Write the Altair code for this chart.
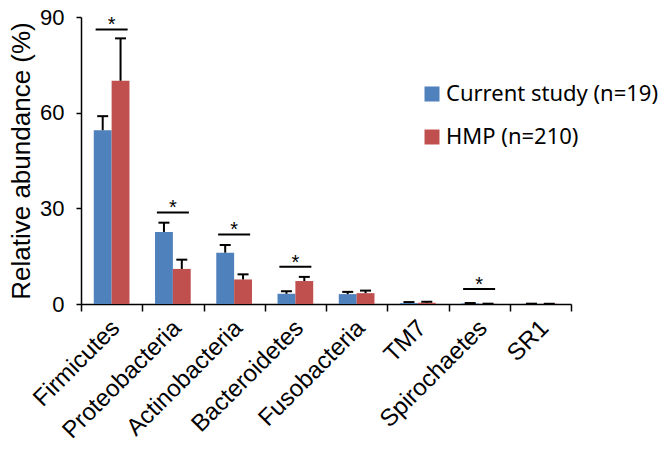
import altair as alt
import pandas as pd

categories = ["Firmicutes", "Proteobacteria", "Actinobacteria", "Bacteroidetes",
              "Fusobacteria", "TM7", "Spirochaetes", "SR1"]
groups = ["Current study (n=19)", "HMP (n=210)"]
current_mean = [54.5, 22.6, 16.1, 3.2, 3.1, 0.3, 0.2, 0.05]
current_err = [4.4, 2.9, 2.4, 0.8, 0.7, 0.3, 0.1, 0.05]
hmp_mean = [70.0, 11.0, 7.7, 7.2, 3.4, 0.4, 0.05, 0.05]
hmp_err = [13.3, 2.9, 1.6, 1.3, 0.8, 0.3, 0.05, 0.02]
sig_categories = ["Firmicutes", "Proteobacteria", "Actinobacteria", "Bacteroidetes", "Spirochaetes"]
sig_level = [86.1, 28.7, 21.8, 11.7, 4.7]
y_ticks = [0, 30, 60, 90]
colors = ["#4F81BD", "#C0504D"]

rows = []
for i, c in enumerate(categories):
    rows.append({"cat": c, "group": groups[0], "value": current_mean[i],
                 "top": current_mean[i] + current_err[i]})
    rows.append({"cat": c, "group": groups[1], "value": hmp_mean[i],
                 "top": hmp_mean[i] + hmp_err[i]})
df = pd.DataFrame(rows)
sig = pd.DataFrame({"cat": sig_categories, "level": sig_level, "star": ["*"] * len(sig_categories)})

FONT = "Liberation Sans"

x_enc = alt.X("cat:N", sort=categories, title=None,
              scale=alt.Scale(paddingInner=0, paddingOuter=0),
              axis=alt.Axis(labelAngle=-45, labelAlign="right", labelBaseline="middle",
                            labelFontSize=24, labelFont=FONT, labelPadding=13,
                            labelOffset=4, labelLimit=300,
                            tickBand="extent", tickSize=7, labelColor="black"))
xoff = alt.XOffset("group:N", sort=groups,
                   scale=alt.Scale(paddingInner=0, paddingOuter=0.716))
y_scale = alt.Scale(domain=[0, 90], nice=False)

bars = alt.Chart(df).mark_bar().encode(
    x=x_enc,
    xOffset=xoff,
    y=alt.Y("value:Q", scale=y_scale, title="Relative abundance (%)",
            axis=alt.Axis(values=y_ticks, tickSize=5, labelFontSize=22, labelFont=FONT,
                          labelPadding=12, titleFontSize=26, titleFont=FONT,
                          titleFontWeight="normal", titlePadding=5, labelColor="black",
                          titleColor="black")),
    color=alt.Color("group:N", sort=groups, title=None,
                    scale=alt.Scale(domain=groups, range=colors),
                    legend=alt.Legend(orient="none", legendX=340, legendY=66,
                                      symbolType="square", symbolSize=225,
                                      symbolStrokeWidth=0, labelFontSize=22,
                                      labelFont="Noto Sans", labelOffset=3,
                                      labelLimit=400,
                                      rowPadding=21, padding=0, labelColor="black")),
)

err = alt.Chart(df).mark_rule(color="black", strokeWidth=2).encode(
    x=alt.X("cat:N", sort=categories),
    xOffset=xoff,
    y=alt.Y("value:Q", scale=y_scale),
    y2="top:Q",
)

caps = alt.Chart(df).mark_tick(color="black", orient="horizontal", size=11, thickness=2,
                               opacity=1).encode(
    x=alt.X("cat:N", sort=categories),
    xOffset=xoff,
    y=alt.Y("top:Q", scale=y_scale),
)

sig_line = alt.Chart(sig).mark_tick(color="black", orient="horizontal", size=32, thickness=2,
                                    opacity=1).encode(
    x=alt.X("cat:N", sort=categories),
    y=alt.Y("level:Q", scale=y_scale),
)

stars = alt.Chart(sig).mark_text(color="black", fontSize=20, font=FONT, baseline="alphabetic",
                                 dy=2).encode(
    x=alt.X("cat:N", sort=categories),
    y=alt.Y("level:Q", scale=y_scale),
    text="star:N",
)

chart = alt.layer(bars, err, caps, sig_line, stars).properties(
    width=490, height=287,
    autosize=alt.AutoSizeParams(type="none"),
    padding={"left": 81, "top": 17, "right": 100, "bottom": 148},
).configure_view(stroke=None).configure_axis(
    grid=False, domainColor="black", domainWidth=1.5, tickColor="black", tickWidth=1.5,
)

chart.save("out.html", embed_options={"renderer": "svg", "actions": False})
